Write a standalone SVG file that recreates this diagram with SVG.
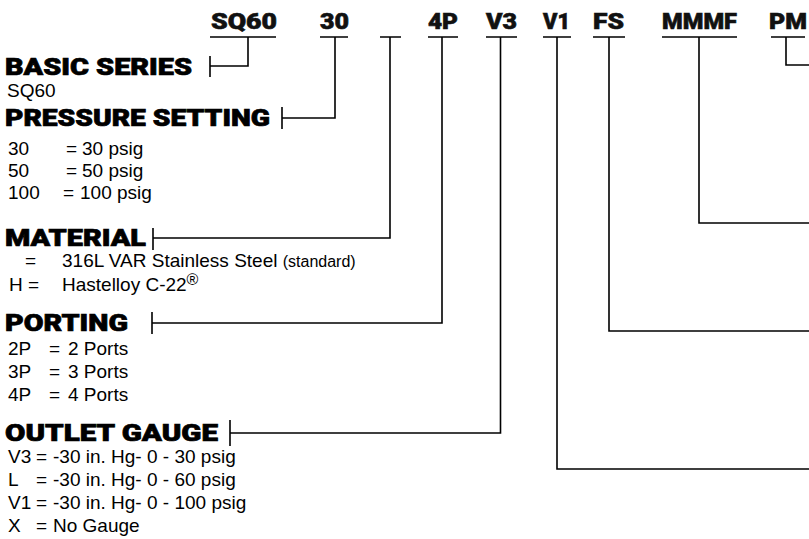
<svg xmlns="http://www.w3.org/2000/svg" width="809" height="539" viewBox="0 0 809 539">
<style>
.code{font-family:Roboto,"DejaVu Sans",sans-serif;font-weight:900;font-size:22px;fill:#111;stroke:#111;stroke-width:0.6}
.head{font-family:Roboto,"DejaVu Sans",sans-serif;font-weight:900;font-size:23px;fill:#000;stroke:#000;stroke-width:0.7}
.body{font-family:"Liberation Sans",Arial,sans-serif;font-size:19px;fill:#000}
.small{font-size:16px}
.ln{fill:none;stroke:#000;stroke-width:1.6}
</style>
<rect width="809" height="539" fill="#fff"/>
<g id="codes">
<text class="code" x="211" y="29" textLength="66" lengthAdjust="spacingAndGlyphs">SQ60</text>
<text class="code" x="320" y="29" textLength="29" lengthAdjust="spacingAndGlyphs">30</text>
<text class="code" x="428" y="29" textLength="30" lengthAdjust="spacingAndGlyphs">4P</text>
<text class="code" x="486" y="29" textLength="31" lengthAdjust="spacingAndGlyphs">V3</text>
<text class="code" x="543" y="29" textLength="27" lengthAdjust="spacingAndGlyphs">V1</text>
<text class="code" x="593" y="29" textLength="31" lengthAdjust="spacingAndGlyphs">FS</text>
<text class="code" x="662" y="29" textLength="75" lengthAdjust="spacingAndGlyphs">MMMF</text>
<text class="code" x="769" y="29" textLength="38" lengthAdjust="spacingAndGlyphs">PM</text>
</g>
<g id="connectors">
<path class="ln" d="M210,37H276M248,37V66H210M210,56V77"/>
<path class="ln" d="M320,37H348M335,37V118H282M282,107V129"/>
<path class="ln" d="M380,37H401M390,37V238H153M153,228V250"/>
<path class="ln" d="M428,37H458M442,37V323H152M152,312V334"/>
<path class="ln" d="M486,37H517M500.5,37V433H230M230,420V446"/>
<path class="ln" d="M543,37H571M557,37V469H809"/>
<path class="ln" d="M593,37H625M609,37V331H809"/>
<path class="ln" d="M662,37H737M699,37V223H809"/>
<path class="ln" d="M771,37H805M786,37V65H809"/>
</g>
<g id="basic-series">
<text class="head" x="5" y="75" textLength="187" lengthAdjust="spacingAndGlyphs">BASIC SERIES</text>
<text class="body" x="7" y="97">SQ60</text>
</g>
<g id="pressure-setting">
<text class="head" x="5" y="126" textLength="265" lengthAdjust="spacingAndGlyphs">PRESSURE SETTING</text>
<text class="body" y="155"><tspan x="8">30</tspan><tspan x="66">=</tspan><tspan x="82">30 psig</tspan></text>
<text class="body" y="177"><tspan x="8">50</tspan><tspan x="66">=</tspan><tspan x="82">50 psig</tspan></text>
<text class="body" y="199"><tspan x="8">100</tspan><tspan x="63">=</tspan><tspan x="80">100 psig</tspan></text>
</g>
<g id="material">
<text class="head" x="5" y="246" textLength="141" lengthAdjust="spacingAndGlyphs">MATERIAL</text>
<text class="body" y="267"><tspan x="25">=</tspan><tspan x="62">316L VAR Stainless Steel </tspan><tspan class="small">(standard)</tspan></text>
<text class="body" y="291"><tspan x="9">H =</tspan><tspan x="62">Hastelloy C-22</tspan><tspan class="small" dy="-6">®</tspan></text>
</g>
<g id="porting">
<text class="head" x="5" y="331" textLength="123" lengthAdjust="spacingAndGlyphs">PORTING</text>
<text class="body" y="355"><tspan x="8">2P</tspan><tspan x="49">=</tspan><tspan x="68">2 Ports</tspan></text>
<text class="body" y="378"><tspan x="8">3P</tspan><tspan x="49">=</tspan><tspan x="68">3 Ports</tspan></text>
<text class="body" y="401"><tspan x="8">4P</tspan><tspan x="49">=</tspan><tspan x="68">4 Ports</tspan></text>
</g>
<g id="outlet-gauge">
<text class="head" x="5" y="441" textLength="213" lengthAdjust="spacingAndGlyphs">OUTLET GAUGE</text>
<text class="body" y="463"><tspan x="8">V3</tspan><tspan x="36">=</tspan><tspan x="53">-30 in. Hg- 0 - 30 psig</tspan></text>
<text class="body" y="486"><tspan x="8">L</tspan><tspan x="36">=</tspan><tspan x="53">-30 in. Hg- 0 - 60 psig</tspan></text>
<text class="body" y="509"><tspan x="8">V1</tspan><tspan x="36">=</tspan><tspan x="53">-30 in. Hg- 0 - 100 psig</tspan></text>
<text class="body" y="532"><tspan x="8">X</tspan><tspan x="36">=</tspan><tspan x="53">No Gauge</tspan></text>
</g>
</svg>
